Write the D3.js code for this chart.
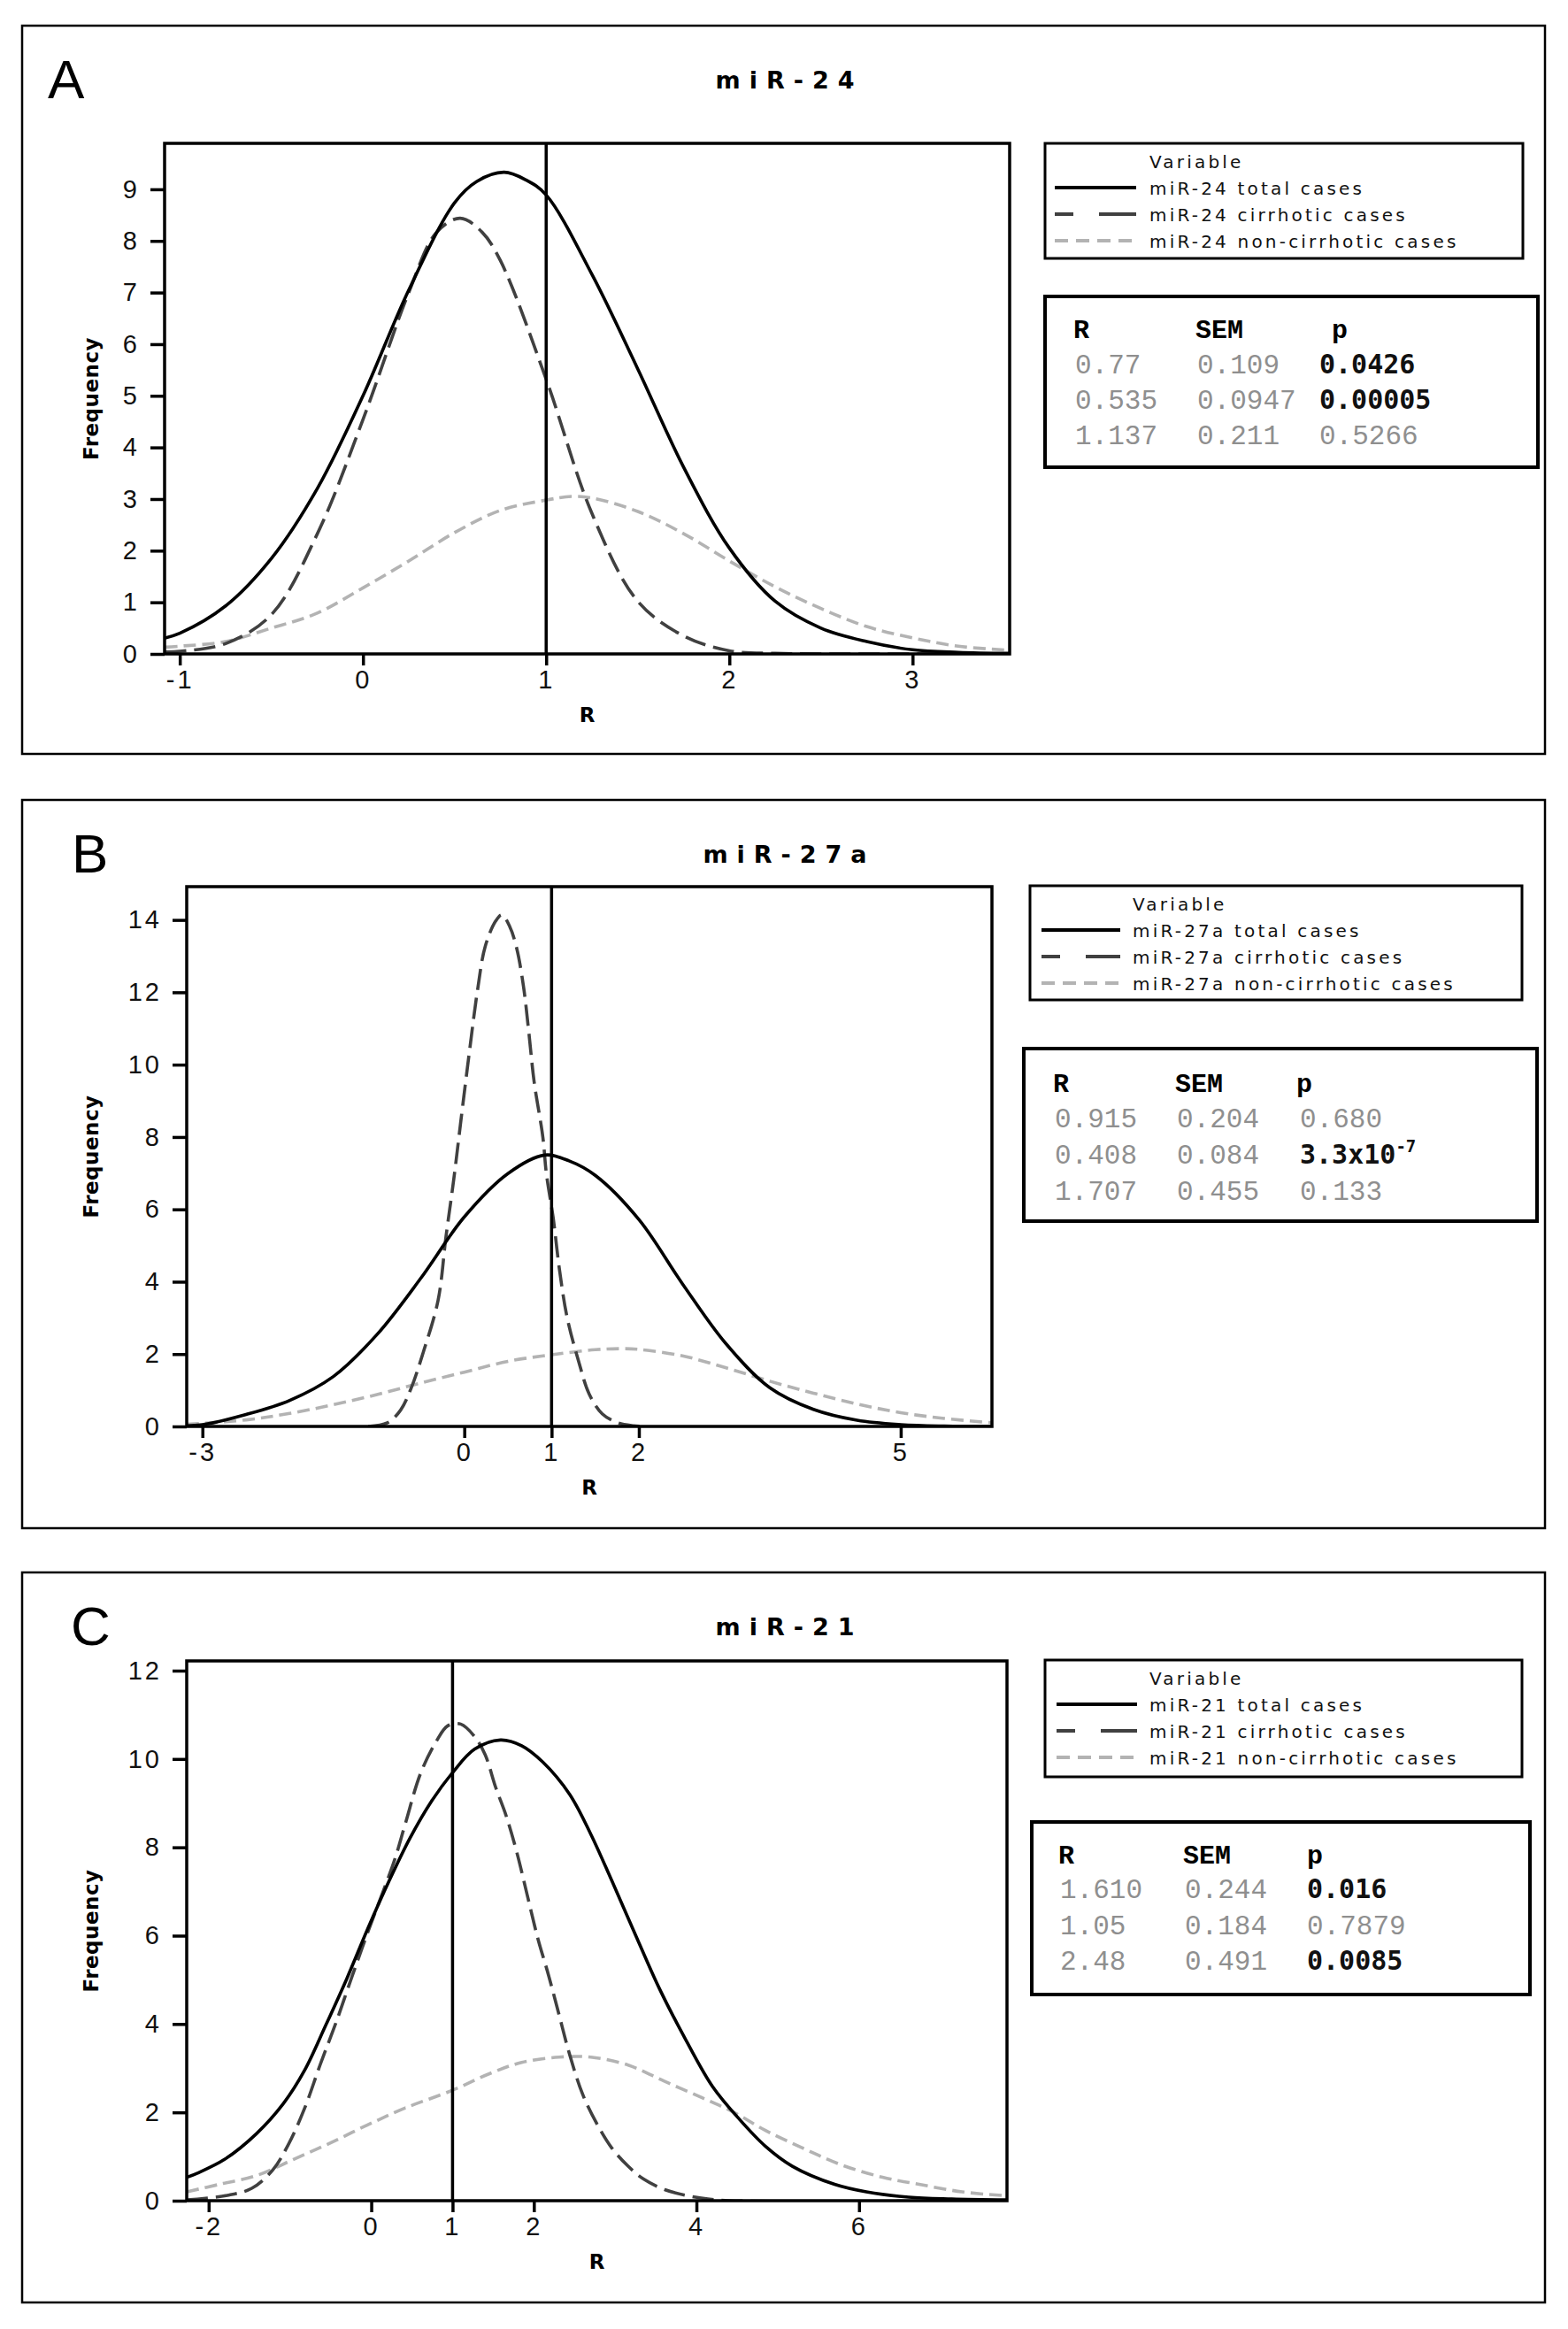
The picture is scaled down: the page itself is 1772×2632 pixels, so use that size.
<!DOCTYPE html>
<html>
<head>
<meta charset="utf-8">
<script src="https://cdn.jsdelivr.net/npm/d3@7"></script>
<style>
    body { margin: 0; background: #fff; }
    svg { display: block; }
</style>
</head>
<body>
<svg id="fig" width="1772" height="2632"></svg>
<script>
// ---- panel A: miR-24 ----
const A_TOTAL_R = [-1.08, -1, -0.75, -0.5, -0.25, 0, 0.25, 0.5, 0.62, 0.77, 0.89, 1, 1.25, 1.5, 1.75, 2, 2.25, 2.5, 2.75, 3, 3.25, 3.53];
const A_TOTAL_F = [0.31, 0.4, 0.93, 1.85, 3.2, 5.0, 7.05, 8.74, 9.15, 9.33, 9.18, 8.89, 7.35, 5.52, 3.62, 2.05, 1.02, 0.5, 0.24, 0.08, 0.03, 0.01];
const A_CIRR_R = [-1.08, -1, -0.75, -0.5, -0.25, 0, 0.25, 0.4, 0.53, 0.65, 0.75, 1, 1.25, 1.5, 1.75, 2, 2.25, 2.5, 3.53];
const A_CIRR_F = [0.04, 0.05, 0.2, 0.76, 2.32, 4.54, 7.0, 8.16, 8.44, 8.17, 7.62, 5.32, 2.72, 1.02, 0.35, 0.06, 0.01, 0, 0];
const A_NONC_R = [-1.08, -1, -0.75, -0.5, -0.25, 0, 0.25, 0.5, 0.75, 1, 1.14, 1.25, 1.5, 1.75, 2, 2.25, 2.5, 2.75, 3, 3.25, 3.53];
const A_NONC_F = [0.13, 0.15, 0.24, 0.5, 0.79, 1.28, 1.8, 2.35, 2.78, 2.98, 3.05, 3.02, 2.76, 2.33, 1.8, 1.3, 0.88, 0.53, 0.31, 0.15, 0.07];
const A_X_TICKS = [-1, 0, 1, 2, 3];
const A_Y_TICKS = [0, 1, 2, 3, 4, 5, 6, 7, 8, 9];
const A_STATS_R = ["0.77", "0.535", "1.137"];
const A_STATS_SEM = ["0.109", "0.0947", "0.211"];
const A_STATS_P = ["0.0426", "0.00005", "0.5266"];
const A_P_BOLD = [true, true, false];

// ---- panel B: miR-27a ----
const B_TOTAL_R = [-3.18, -3, -2.5, -2, -1.5, -1, -0.5, 0, 0.5, 0.92, 1.2, 1.5, 2, 2.5, 3, 3.5, 4, 4.5, 5, 5.5, 6.05];
const B_TOTAL_F = [0.02, 0.05, 0.33, 0.72, 1.38, 2.54, 4.09, 5.79, 6.99, 7.5, 7.34, 6.94, 5.72, 3.94, 2.28, 1.07, 0.47, 0.17, 0.05, 0.01, 0];
const B_CIRR_R = [-1.1, -0.88, -0.73, -0.61, -0.47, -0.3, -0.21, -0.12, -0.03, 0.06, 0.15, 0.24, 0.36, 0.43, 0.52, 0.6, 0.68, 0.74, 0.8, 0.9, 0.94, 1.02, 1.09, 1.18, 1.31, 1.43, 1.58, 1.76, 1.94, 2.1];
const B_CIRR_F = [0, 0.1, 0.45, 1.05, 2.05, 3.49, 5.24, 6.84, 8.63, 10.38, 12.03, 13.27, 13.97, 14.14, 13.82, 13.22, 12.13, 10.88, 9.53, 8.0, 7.0, 5.74, 4.34, 2.99, 1.8, 0.9, 0.35, 0.1, 0.02, 0];
const B_NONC_R = [-3.18, -2.5, -2, -1.5, -1, -0.5, 0, 0.5, 1, 1.5, 1.8, 2, 2.5, 3, 3.5, 4, 4.5, 5, 5.5, 6.05];
const B_NONC_F = [0.06, 0.18, 0.36, 0.6, 0.88, 1.2, 1.5, 1.8, 1.98, 2.12, 2.15, 2.13, 1.95, 1.62, 1.25, 0.92, 0.62, 0.38, 0.22, 0.1];
const B_X_TICKS = [-3, 0, 1, 2, 5];
const B_Y_TICKS = [0, 2, 4, 6, 8, 10, 12, 14];
const B_STATS_R = ["0.915", "0.408", "1.707"];
const B_STATS_SEM = ["0.204", "0.084", "0.455"];
const B_STATS_P = ["0.680", "3.3x10|-7", "0.133"];
const B_P_BOLD = [false, true, false];

// ---- panel C: miR-21 ----
const C_TOTAL_R = [-2.27, -2.13, -1.8, -1.41, -1.08, -0.82, -0.56, -0.3, -0.04, 0.22, 0.48, 0.74, 1, 1.27, 1.59, 1.85, 2.11, 2.44, 2.7, 2.96, 3.29, 3.55, 3.87, 4.2, 4.53, 4.85, 5.18, 5.7, 6.09, 6.61, 7.14, 7.82];
const C_TOTAL_F = [0.53, 0.63, 0.94, 1.52, 2.2, 2.95, 3.97, 5.03, 6.17, 7.24, 8.22, 9.04, 9.69, 10.22, 10.43, 10.3, 9.93, 9.2, 8.3, 7.24, 5.85, 4.78, 3.64, 2.58, 1.84, 1.23, 0.78, 0.37, 0.2, 0.08, 0.04, 0.02];
const C_CIRR_R = [-2.27, -1.77, -1.47, -1.21, -1.02, -0.82, -0.63, -0.43, -0.23, -0.04, 0.16, 0.29, 0.42, 0.61, 0.81, 0.94, 1.1, 1.27, 1.4, 1.53, 1.66, 1.79, 1.92, 2.05, 2.18, 2.31, 2.44, 2.6, 2.77, 2.96, 3.16, 3.35, 3.61, 3.87, 4.14, 4.4, 7.82];
const C_CIRR_F = [0.02, 0.12, 0.28, 0.7, 1.27, 2.09, 3.07, 4.05, 5.11, 6.09, 7.07, 7.73, 8.54, 9.69, 10.43, 10.75, 10.79, 10.51, 10.1, 9.36, 8.71, 7.89, 6.91, 5.93, 5.11, 4.21, 3.31, 2.41, 1.76, 1.19, 0.78, 0.49, 0.25, 0.12, 0.04, 0, 0];
const C_NONC_R = [-2.27, -1.87, -1.41, -0.95, -0.5, -0.04, 0.42, 1, 1.46, 1.85, 2.31, 2.7, 3.16, 3.61, 4.07, 4.46, 4.85, 5.31, 5.77, 6.29, 6.74, 7.27, 7.82];
const C_NONC_F = [0.2, 0.37, 0.57, 0.94, 1.31, 1.72, 2.1, 2.5, 2.88, 3.13, 3.25, 3.25, 3.07, 2.7, 2.33, 2.0, 1.59, 1.19, 0.82, 0.53, 0.37, 0.2, 0.11];
const C_X_TICKS = [-2, 0, 1, 2, 4, 6];
const C_Y_TICKS = [0, 2, 4, 6, 8, 10, 12];
const C_STATS_R = ["1.610", "1.05", "2.48"];
const C_STATS_SEM = ["0.244", "0.184", "0.491"];
const C_STATS_P = ["0.016", "0.7879", "0.0085"];
const C_P_BOLD = [true, false, true];

const SERIES_SUFFIX = ["total cases", "cirrhotic cases", "non-cirrhotic cases"];
const STATS_HEADERS = ["R", "SEM", "p"];

const STYLE = {
    total: { stroke: "#000", dash: null, legend_dash: null },
    cirr: { stroke: "#404040", dash: "24,9", legend_dash: "21,29,42" },
    noncirr: { stroke: "#b3b3b3", dash: "14,7", legend_dash: "15,9" },
};
const SERIES_KEYS = ["total", "cirr", "noncirr"];

const PANELS = [
    {
        label: "A", label_x: 54, title: "miR-24", name: "miR-24",
        box: [25, 29, 1746, 852], plot: [186, 162, 1141, 739],
        x_domain: [-1.083, 3.53], y_domain: [0, 9.89],
        x_ticks: A_X_TICKS, y_ticks: A_Y_TICKS,
        data: { total: [A_TOTAL_R, A_TOTAL_F], cirr: [A_CIRR_R, A_CIRR_F], noncirr: [A_NONC_R, A_NONC_F] },
        legend_box: [1181, 162, 1721, 292], legend_text_x: 1299, legend_line: [1192, 1284],
        stats_box: [1181, 335, 1738, 528], stats_cols: [1215, 1353, 1491], p_head_x: 1505,
        stats_head_y: 382, stats_rows_y: [422, 462, 502],
        stats: [A_STATS_R, A_STATS_SEM, A_STATS_P], p_bold: A_P_BOLD,
    },
    {
        label: "B", label_x: 81, title: "miR-27a", name: "miR-27a",
        box: [25, 904, 1746, 1727], plot: [211, 1002, 1121, 1612],
        x_domain: [-3.18, 6.045], y_domain: [0, 14.92],
        x_ticks: B_X_TICKS, y_ticks: B_Y_TICKS,
        data: { total: [B_TOTAL_R, B_TOTAL_F], cirr: [B_CIRR_R, B_CIRR_F], noncirr: [B_NONC_R, B_NONC_F] },
        legend_box: [1164, 1001, 1720, 1130], legend_text_x: 1280, legend_line: [1177, 1266],
        stats_box: [1157, 1185, 1737, 1380], stats_cols: [1192, 1330, 1469], p_head_x: 1465,
        stats_head_y: 1234, stats_rows_y: [1274, 1315, 1356],
        stats: [B_STATS_R, B_STATS_SEM, B_STATS_P], p_bold: B_P_BOLD,
    },
    {
        label: "C", label_x: 80, title: "miR-21", name: "miR-21",
        box: [25, 1777, 1746, 2602], plot: [211, 1877, 1138, 2487],
        x_domain: [-2.27, 7.82], y_domain: [0, 12.22],
        x_ticks: C_X_TICKS, y_ticks: C_Y_TICKS,
        data: { total: [C_TOTAL_R, C_TOTAL_F], cirr: [C_CIRR_R, C_CIRR_F], noncirr: [C_NONC_R, C_NONC_F] },
        legend_box: [1181, 1876, 1720, 2008], legend_text_x: 1299, legend_line: [1194, 1285],
        stats_box: [1166, 2059, 1729, 2254], stats_cols: [1198, 1339, 1477], p_head_x: 1477,
        stats_head_y: 2106, stats_rows_y: [2145, 2186, 2226],
        stats: [C_STATS_R, C_STATS_SEM, C_STATS_P], p_bold: C_P_BOLD,
    },
];

const TICK_FONT = "'Liberation Sans', Arial, sans-serif";
const SANS = "'DejaVu Sans', Verdana, sans-serif";
const MONO = "'Liberation Mono', 'Courier New', monospace";

const svg = d3.select("#fig");
svg.append("rect").attr("width", 1772).attr("height", 2632).attr("fill", "#fff");

const drawPanel = (p, idx) => {
    const [bx0, by0, bx1, by1] = p.box;
    const [px0, py0, px1, py1] = p.plot;
    const g = svg.append("g").attr("class", "panel");

    g.append("rect")
        .attr("x", bx0).attr("y", by0)
        .attr("width", bx1 - bx0).attr("height", by1 - by0)
        .attr("fill", "none").attr("stroke", "#000").attr("stroke-width", 2.5);

    g.append("text")
        .attr("x", p.label_x).attr("y", by0 + 82)
        .attr("font-family", "'Liberation Sans Narrow', 'Liberation Sans', sans-serif")
        .attr("font-size", 62)
        .text(p.label);

    g.append("text")
        .attr("x", 892).attr("y", by0 + 71)
        .attr("text-anchor", "middle")
        .attr("font-family", SANS).attr("font-weight", "bold")
        .attr("font-size", 27).attr("letter-spacing", 10)
        .text(p.title);

    const x = d3.scaleLinear().domain(p.x_domain).range([px0, px1]);
    const y = d3.scaleLinear().domain(p.y_domain).range([py1, py0]);

    const clip_id = `clip-${idx}`;
    g.append("clipPath").attr("id", clip_id)
        .append("rect").attr("x", px0).attr("y", py0).attr("width", px1 - px0).attr("height", py1 - py0);

    const line = d3.line()
        .x((d) => x(d[0]))
        .y((d) => y(d[1]))
        .curve(d3.curveCatmullRom.alpha(0.5));

    const curves = g.append("g").attr("clip-path", `url(#${clip_id})`);
    ["noncirr", "cirr", "total"].forEach((key) => {
        const [rs, fs] = p.data[key];
        const pts = rs.map((r, i) => [r, fs[i]]);
        curves.append("path")
            .attr("d", line(pts))
            .attr("fill", "none")
            .attr("stroke", STYLE[key].stroke)
            .attr("stroke-width", 3.6)
            .attr("stroke-dasharray", STYLE[key].dash);
    });

    // reference line at R = 1
    g.append("line")
        .attr("x1", x(1)).attr("x2", x(1))
        .attr("y1", py0).attr("y2", py1)
        .attr("stroke", "#000").attr("stroke-width", 3.5);

    const styleAxis = (ax) => {
        ax.select(".domain").remove();
        ax.selectAll(".tick line").attr("stroke", "#000").attr("stroke-width", 3.5);
        ax.selectAll(".tick text")
            .attr("fill", "#111")
            .attr("font-family", TICK_FONT)
            .attr("font-size", 29)
            .attr("letter-spacing", 3);
    };

    g.append("g")
        .attr("transform", `translate(${px0},0)`)
        .call(d3.axisLeft(y).tickValues(p.y_ticks).tickSize(16).tickPadding(12).tickFormat((d) => `${d}`))
        .call(styleAxis);

    g.append("g")
        .attr("transform", `translate(0,${py1})`)
        .call(d3.axisBottom(x).tickValues(p.x_ticks).tickSize(13).tickPadding(5).tickFormat((d) => `${d}`))
        .call(styleAxis);

    g.append("rect")
        .attr("x", px0).attr("y", py0)
        .attr("width", px1 - px0).attr("height", py1 - py0)
        .attr("fill", "none").attr("stroke", "#000").attr("stroke-width", 3.5);

    g.append("text")
        .attr("transform", `translate(111,${(py0 + py1) / 2}) rotate(-90)`)
        .attr("text-anchor", "middle")
        .attr("font-family", SANS).attr("font-weight", "bold")
        .attr("font-size", 23).attr("letter-spacing", 0.5)
        .text("Frequency");

    g.append("text")
        .attr("x", (px0 + px1) / 2).attr("y", py1 + 77)
        .attr("text-anchor", "middle")
        .attr("font-family", SANS).attr("font-weight", "bold")
        .attr("font-size", 23)
        .text("R");

    drawLegend(g, p);
    drawStats(g, p);
};

const drawLegend = (g, p) => {
    const [lx0, ly0, lx1, ly1] = p.legend_box;
    g.append("rect")
        .attr("x", lx0).attr("y", ly0)
        .attr("width", lx1 - lx0).attr("height", ly1 - ly0)
        .attr("fill", "#fff").attr("stroke", "#000").attr("stroke-width", 3);

    const addText = (txt, yy) => g.append("text")
        .attr("x", p.legend_text_x).attr("y", yy)
        .attr("font-family", SANS).attr("font-size", 20)
        .attr("letter-spacing", 3.2).attr("fill", "#111")
        .text(txt);

    addText("Variable", ly0 + 28);
    SERIES_KEYS.forEach((key, i) => {
        const yy = ly0 + 58 + i * 30;
        g.append("line")
            .attr("x1", p.legend_line[0]).attr("x2", p.legend_line[1])
            .attr("y1", yy - 8).attr("y2", yy - 8)
            .attr("stroke", STYLE[key].stroke).attr("stroke-width", 4)
            .attr("stroke-dasharray", STYLE[key].legend_dash);
        addText(`${p.name} ${SERIES_SUFFIX[i]}`, yy);
    });
};

const drawStats = (g, p) => {
    const [sx0, sy0, sx1, sy1] = p.stats_box;
    g.append("rect")
        .attr("x", sx0).attr("y", sy0)
        .attr("width", sx1 - sx0).attr("height", sy1 - sy0)
        .attr("fill", "#fff").attr("stroke", "#000").attr("stroke-width", 4);

    STATS_HEADERS.forEach((h, c) => {
        g.append("text")
            .attr("x", c == 2 ? p.p_head_x : p.stats_cols[c] - 2)
            .attr("y", p.stats_head_y)
            .attr("font-family", MONO).attr("font-weight", "bold")
            .attr("font-size", 30).attr("fill", "#000")
            .text(h);
    });

    p.stats.forEach((col, c) => {
        col.forEach((val, r) => {
            const bold = c == 2 && p.p_bold[r];
            const t = g.append("text")
                .attr("x", p.stats_cols[c])
                .attr("y", p.stats_rows_y[r])
                .attr("font-family", bold ? "'DejaVu Sans Mono', monospace" : MONO)
                .attr("font-weight", bold ? "bold" : "normal")
                .attr("font-size", bold ? 30 : 31)
                .attr("fill", bold ? "#111" : "#8f8f8f");
            const parts = val.split("|");
            t.append("tspan").text(parts[0]);
            if (parts.length > 1) {
                t.append("tspan")
                    .attr("dy", -13)
                    .attr("font-size", 19)
                    .text(parts[1]);
            }
        });
    });
};

PANELS.forEach(drawPanel);
</script>
</body>
</html>
